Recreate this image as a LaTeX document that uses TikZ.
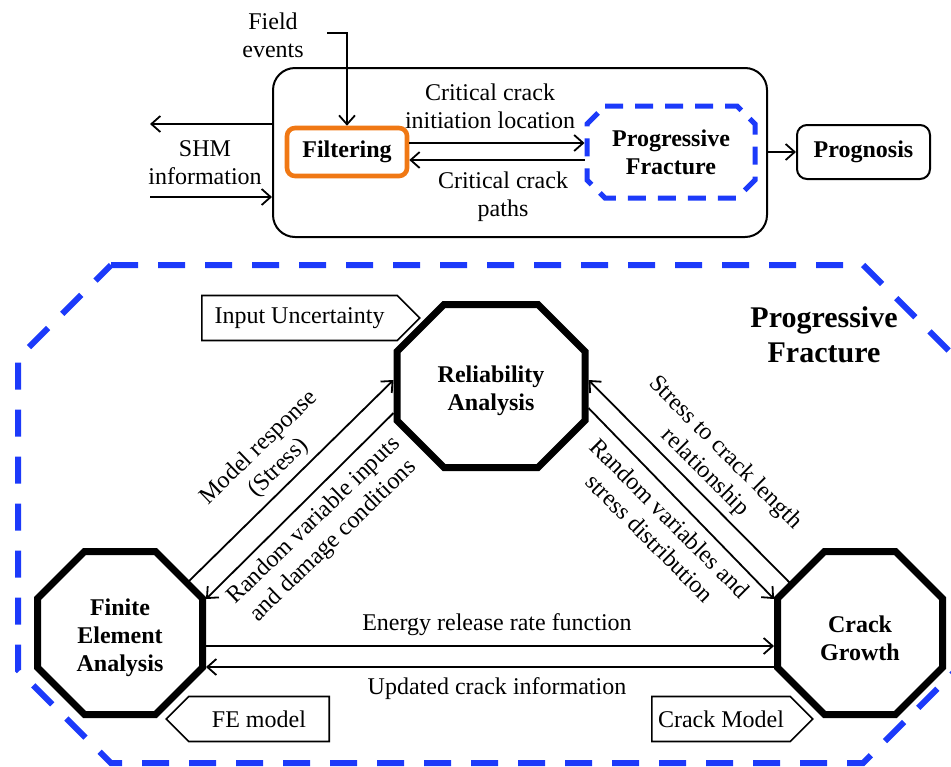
\documentclass[tikz,border=0pt]{standalone}
\usepackage{fontspec}
\setmainfont{Liberation Serif}
\usetikzlibrary{arrows.meta,shapes.symbols}

\definecolor{pfblue}{RGB}{28,58,250}
\definecolor{filtorange}{RGB}{240,120,20}

% octagon round a (rectangle) node: #1 node, #2 chamfer
\newcommand{\octpath}[2]{([xshift=#2]#1.north west) -- ([xshift=-#2]#1.north east) -- ([yshift=-#2]#1.north east)
  -- ([yshift=#2]#1.south east) -- ([xshift=-#2]#1.south east) -- ([xshift=#2]#1.south west)
  -- ([yshift=#2]#1.south west) -- ([yshift=-#2]#1.north west) -- cycle}

\tikzset{
  conn/.style={line width=0.9pt,-{Straight Barb[length=4.5pt,width=8pt]}},
  lbl/.style={font=\fontsize{12}{14}\selectfont,align=center,inner sep=1pt},
  boldlbl/.style={font=\fontsize{12}{14}\selectfont\bfseries,align=center},
  octbox/.style={outer sep=0pt,inner sep=0pt,minimum height=81.5pt,
    label={[boldlbl,yshift=-2.5pt]center:{#1}}},
  octline/.style={line width=3.5pt},
  pfdash/.style={draw=pfblue,line width=#1},
  tag/.style={signal,draw,line width=0.8pt,minimum height=22.5pt,lbl}
}

\begin{document}
\begin{tikzpicture}[x=0.5pt,y=-0.5pt]
  \useasboundingbox (0,0) rectangle (951,766);

  % Monitoring loop
  \node[draw,rounded corners=11pt,line width=1pt,minimum width=247pt,minimum height=84.5pt] (mon) at (520,152.5) {};
  \node[boldlbl,draw=filtorange,line width=2.3pt,rounded corners=4pt,minimum width=60pt,minimum height=24pt] (filt) at (347,152) {Filtering};
  \node[boldlbl,outer sep=0pt,inner sep=0pt,minimum width=84pt,minimum height=46pt] (pf) at (671,152) {Progressive\\Fracture};
  \draw[pfdash=2.5pt,dash pattern=on 9pt off 6pt] \octpath{pf}{9pt};
  \node[boldlbl,draw,rounded corners=5pt,line width=1pt,minimum width=66.5pt,minimum height=27pt] (prog) at (863.5,152) {Prognosis};

  % Etichette
  \node[lbl] (fieldtxt) at (273,35) {Field\\events};
  \node[lbl] (shmtxt) at (205,163) {SHM\\information};
  \node[lbl] (inittxt) at (490,106) {Critical crack\\initiation location};
  \node[lbl] (pathtxt) at (503,197) {Critical crack\\paths};

  \coordinate (fieldin) at (327,33);
  \coordinate (shmout) at (150,124);
  \coordinate (shmin) at (150,197);

  \draw[conn] (fieldin) -| (filt.north);
  \draw[conn] (mon.west |- shmout) -- (shmout);
  \draw[conn] (shmin) -- (mon.west |- shmin);
  \draw[conn] ([yshift=4.5pt]filt.east) -- ([xshift=-1.25pt,yshift=4.5pt]pf.west);
  \draw[conn] ([xshift=-1.25pt,yshift=-4pt]pf.west) -- ([yshift=-4pt]filt.east);
  \draw[conn] (mon.east |- prog.west) -- (prog.west);

  % Progressive fracture detail
  \node[outer sep=0pt,minimum width=469pt,minimum height=249pt] (pfbig) at (487,514) {};
  \draw[pfdash=3pt,dash pattern=on 13.5pt off 10pt] \octpath{pfbig}{46.5pt};
  \node[boldlbl,font=\fontsize{15}{17.5}\selectfont\bfseries] (pftitle) at (824,335) {Progressive\\Fracture};

  \node[octbox={Reliability\\Analysis},minimum width=94pt] (rel) at (491,386) {};
  \node[octbox={Finite\\Element\\Analysis},minimum width=82.5pt] (fea) at (120,633) {};
  \node[octbox={Crack\\Growth},minimum width=82.5pt] (cg) at (860,633) {};
  \draw[octline] \octpath{rel}{23.5pt};
  \draw[octline] \octpath{fea}{23.5pt};
  \draw[octline] \octpath{cg}{23.5pt};

  \node[tag,signal to=east,minimum width=109pt,anchor=west] (inunc) at (201,318) {Input Uncertainty};
  \node[tag,signal to=west,minimum width=81.5pt,anchor=east] (femod) at (330,719) {FE model};
  \node[tag,signal to=east,minimum width=80.5pt,anchor=west] (crmod) at (651,719) {Crack Model};

  % Frecce
  \draw[conn] ([xshift=-8pt,yshift=-16pt]fea.north east) -- ([xshift=-1.75pt,yshift=3pt]rel.west);
  \draw[conn] ([xshift=-1.75pt,yshift=-13.5pt]rel.west) -- ([xshift=1.75pt,yshift=17pt]fea.east);
  \draw[conn] ([xshift=6.5pt,yshift=-16pt]cg.north west) -- ([xshift=1.75pt,yshift=3pt]rel.east);
  \draw[conn] ([xshift=1.75pt,yshift=-11pt]rel.east) -- ([xshift=-1.75pt,yshift=17pt]cg.west);
  \draw[conn] ([xshift=1.75pt,yshift=-6.5pt]fea.east) -- ([xshift=-1.75pt,yshift=-6.5pt]cg.west);
  \draw[conn] ([xshift=-1.75pt,yshift=-17pt]cg.west) -- ([xshift=1.75pt,yshift=-17pt]fea.east);

  \node[lbl,rotate=44] (mrlbl) at (269,458) {Model response\\(Stress)};
  \node[lbl,rotate=44] (rvlbl) at (324,531) {Random variable inputs\\and damage conditions};
  \node[lbl,rotate=-45] (sclbl) at (715,463) {Stress to crack length\\relationship};
  \node[lbl,rotate=-45] (rslbl) at (660,528) {Random variables and\\stress distribution};
  \node[lbl] (erlbl) at (497,625) {Energy release rate function};
  \node[lbl] (uclbl) at (497,689) {Updated crack information};
\end{tikzpicture}
\end{document}
